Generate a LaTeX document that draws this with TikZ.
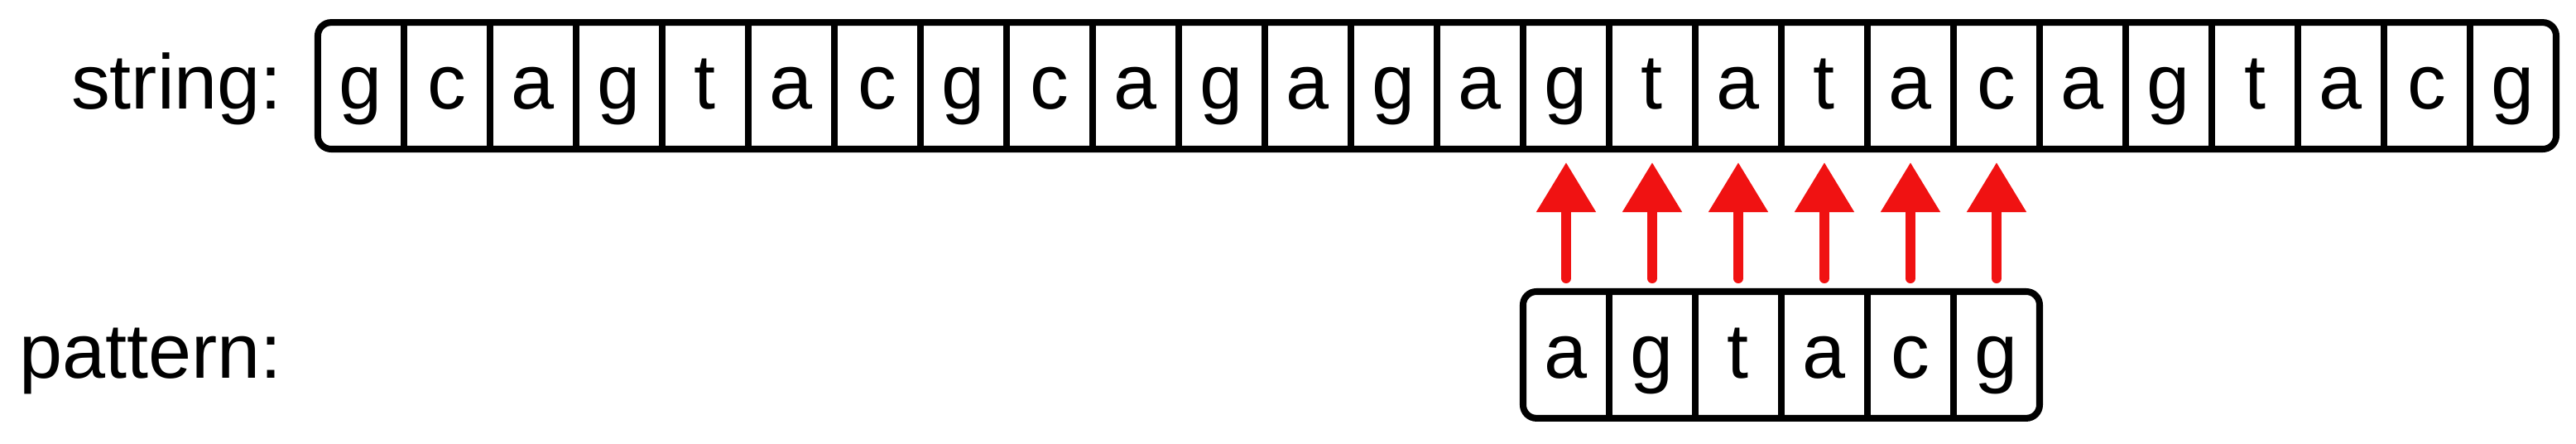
\documentclass[tikz,border=0pt]{standalone}
\usepackage{fontspec}
\setmainfont{Liberation Sans}
\usepackage{tikz}
\usetikzlibrary{positioning}
\usetikzlibrary{fit}
\usetikzlibrary{arrows.meta}
\definecolor{hitred}{RGB}{240,18,18}

\begin{document}
\begin{tikzpicture}[
		line width=2.2pt,
		cell/.style={minimum width=1cm, minimum height=1.47cm, inner sep=0pt, outer sep=0pt,
			text height=0.7cm, text depth=0.168cm, font=\fontsize{25.6}{30}\selectfont},
		seqbox/.style={draw, rounded corners=4.4pt, inner sep=0pt, outer sep=0pt},
		lbl/.style={inner sep=0pt, font=\fontsize{25.6}{30}\selectfont},
		hit/.style={-{Triangle[width=0.663cm, length=0.577cm]}, color=hitred, line width=3.3pt,
			line cap=round, shorten >=0.154cm, shorten <=0.154cm}
		]
		
		\useasboundingbox (-3.692,-3.423) rectangle (26.231,1.7308);
		
		%string
		\node[cell, anchor=south west] (s0) at (0,0) {g};
		\node[cell, right=0pt of s0] (s1) {c};
		\node[cell, right=0pt of s1] (s2) {a};
		\node[cell, right=0pt of s2] (s3) {g};
		\node[cell, right=0pt of s3] (s4) {t};
		\node[cell, right=0pt of s4] (s5) {a};
		\node[cell, right=0pt of s5] (s6) {c};
		\node[cell, right=0pt of s6] (s7) {g};
		\node[cell, right=0pt of s7] (s8) {c};
		\node[cell, right=0pt of s8] (s9) {a};
		\node[cell, right=0pt of s9] (s10) {g};
		\node[cell, right=0pt of s10] (s11) {a};
		\node[cell, right=0pt of s11] (s12) {g};
		\node[cell, right=0pt of s12] (s13) {a};
		\node[cell, right=0pt of s13] (s14) {g};
		\node[cell, right=0pt of s14] (s15) {t};
		\node[cell, right=0pt of s15] (s16) {a};
		\node[cell, right=0pt of s16] (s17) {t};
		\node[cell, right=0pt of s17] (s18) {a};
		\node[cell, right=0pt of s18] (s19) {c};
		\node[cell, right=0pt of s19] (s20) {a};
		\node[cell, right=0pt of s20] (s21) {g};
		\node[cell, right=0pt of s21] (s22) {t};
		\node[cell, right=0pt of s22] (s23) {a};
		\node[cell, right=0pt of s23] (s24) {c};
		\node[cell, right=0pt of s24] (s25) {g};
		\node[seqbox, fit=(s0)(s25)] (str) {};
		
		\draw (s0.north east) -- (s0.south east);
		\draw (s1.north east) -- (s1.south east);
		\draw (s2.north east) -- (s2.south east);
		\draw (s3.north east) -- (s3.south east);
		\draw (s4.north east) -- (s4.south east);
		\draw (s5.north east) -- (s5.south east);
		\draw (s6.north east) -- (s6.south east);
		\draw (s7.north east) -- (s7.south east);
		\draw (s8.north east) -- (s8.south east);
		\draw (s9.north east) -- (s9.south east);
		\draw (s10.north east) -- (s10.south east);
		\draw (s11.north east) -- (s11.south east);
		\draw (s12.north east) -- (s12.south east);
		\draw (s13.north east) -- (s13.south east);
		\draw (s14.north east) -- (s14.south east);
		\draw (s15.north east) -- (s15.south east);
		\draw (s16.north east) -- (s16.south east);
		\draw (s17.north east) -- (s17.south east);
		\draw (s18.north east) -- (s18.south east);
		\draw (s19.north east) -- (s19.south east);
		\draw (s20.north east) -- (s20.south east);
		\draw (s21.north east) -- (s21.south east);
		\draw (s22.north east) -- (s22.south east);
		\draw (s23.north east) -- (s23.south east);
		\draw (s24.north east) -- (s24.south east);
		
		%pattern
		\node[cell, below=1.654cm of s14] (p0) {a};
		\node[cell, right=0pt of p0] (p1) {g};
		\node[cell, right=0pt of p1] (p2) {t};
		\node[cell, right=0pt of p2] (p3) {a};
		\node[cell, right=0pt of p3] (p4) {c};
		\node[cell, right=0pt of p4] (p5) {g};
		\node[seqbox, fit=(p0)(p5)] (pat) {};
		
		\draw (p0.north east) -- (p0.south east);
		\draw (p1.north east) -- (p1.south east);
		\draw (p2.north east) -- (p2.south east);
		\draw (p3.north east) -- (p3.south east);
		\draw (p4.north east) -- (p4.south east);
		
		% labels
		\node[lbl, left=0.375cm of s0.base west, anchor=base east] (strlbl) {string:};
		\node[lbl, anchor=base east] (patlbl) at (strlbl.base east |- p0.base) {pattern:};
		
		% matches
		\draw[hit] (p0.north) -- (s14.south);
		\draw[hit] (p1.north) -- (s15.south);
		\draw[hit] (p2.north) -- (s16.south);
		\draw[hit] (p3.north) -- (s17.south);
		\draw[hit] (p4.north) -- (s18.south);
		\draw[hit] (p5.north) -- (s19.south);
	\end{tikzpicture}
\end{document}
